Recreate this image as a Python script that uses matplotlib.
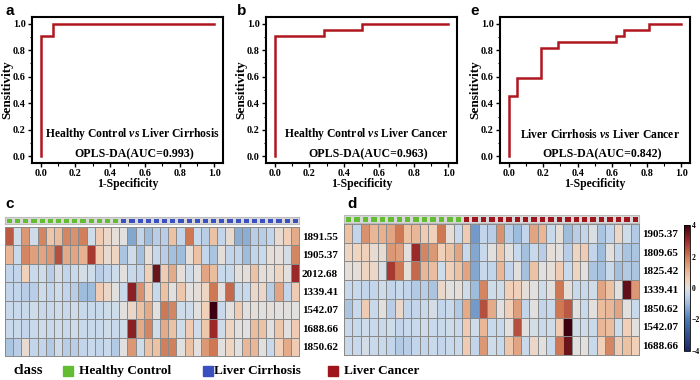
import numpy as np
import matplotlib
matplotlib.use("Agg")
import matplotlib.pyplot as plt
from matplotlib.colors import LinearSegmentedColormap, ListedColormap, Normalize
from matplotlib.patches import Rectangle

plt.rcParams['font.family'] = ['Liberation Serif', 'DejaVu Serif']
plt.rcParams['mathtext.fontset'] = 'custom'
plt.rcParams['mathtext.rm'] = 'Liberation Serif:bold'
plt.rcParams['mathtext.it'] = 'Liberation Serif:italic:bold'
plt.rcParams['mathtext.bf'] = 'Liberation Serif:bold'

# ---------------- ROC data ----------------
roc_a_fpr = [0, 0, 0.071, 0.071, 1.0]
roc_a_tpr = [0, 0.909, 0.909, 1.0, 1.0]
roc_b_fpr = [0, 0, 0.286, 0.286, 0.5, 0.5, 1.0]
roc_b_tpr = [0, 0.909, 0.909, 0.955, 0.955, 1.0, 1.0]
roc_e_fpr = [0, 0, 0.048, 0.048, 0.19, 0.19, 0.286, 0.286, 0.619, 0.619, 0.667, 0.667, 0.81, 0.81, 1.0]
roc_e_tpr = [0, 0.455, 0.455, 0.591, 0.591, 0.818, 0.818, 0.864, 0.864, 0.909, 0.909, 0.955, 0.955, 1.0, 1.0]
roc_titles = ["Healthy Control $\\it{vs}$ Liver Cirrhosis",
              "Healthy Control $\\it{vs}$ Liver Cancer",
              "Liver Cirrhosis $\\it{vs}$ Liver Cancer"]
roc_auc = ["OPLS-DA(AUC=0.993)", "OPLS-DA(AUC=0.963)", "OPLS-DA(AUC=0.842)"]
roc_letters = ["a", "b", "e"]

# ---------------- Heatmap c data (14 HC + 22 LC) ----------------
c_labels = ["1891.55", "1905.37", "2012.68", "1339.41", "1542.07", "1688.66", "1850.62"]
c_classes = [0] * 14 + [1] * 22
c_vals = [
    [2.4, -0.3, 1.5, -0.3, 1.8, 0.7, 0.9, 1.8, 1.6, 1.9, -0.3, 0.6, 0.3, 0.1,
     0.0, -1.3, -0.5, -1.0, -0.6, -0.6, 0.8, -0.5, 2.0, -0.4, -0.6, 0.8, -0.5, 0.2, -1.2, -1.2, -0.6, -0.6, -0.5, 0.2, 0.5, 1.2],
    [1.0, -0.4, 1.8, 1.4, 1.3, 1.5, 2.5, 1.2, 1.3, 1.1, 2.8, 0.6, 0.2, 0.4,
     -0.8, -0.3, -0.9, 0.1, -0.4, -0.6, -0.9, -1.0, 0.1, 0.8, -0.5, -0.8, 0.1, -0.5, -0.5, -1.0, -0.5, -0.4, 0.1, 0.1, -0.2, 1.8],
    [-0.5, -0.5, 0.5, -0.4, -0.3, -0.6, -0.2, -0.5, -0.4, -0.2, -0.3, -0.6, -0.5, -0.3,
     0.0, -0.4, -0.5, 0.5, 3.5, 0.6, 1.2, 0.1, -0.3, 0.0, 1.3, 0.9, -0.4, -0.4, 0.0, 0.1, 0.8, 0.1, 0.1, 0.4, 0.0, 3.0],
    [-0.5, -0.5, -0.6, -0.6, -0.3, -0.5, -0.3, -0.5, -0.6, -1.0, -1.0, 0.6, 0.3, 0.0,
     -0.4, 3.2, 1.6, 0.5, -0.4, 0.8, 0.0, 0.7, 0.0, 0.1, 0.4, 2.0, 0.0, 2.2, -0.4, -0.4, 0.3, 0.3, -0.6, 1.3, -0.5, 0.6],
    [-0.4, -0.4, -0.4, -0.3, -0.4, -0.4, -0.3, -0.4, -0.3, -0.4, -0.4, -0.4, -0.3, -0.3,
     0.0, 0.3, 0.8, 1.2, 0.0, 2.0, 1.8, -0.3, -0.3, 0.0, 0.5, 4.5, -0.4, 0.0, 0.6, 0.0, 0.1, 0.0, 0.1, 0.0, 0.0, 0.0],
    [-0.4, -0.4, -0.5, -0.4, -0.3, -0.4, -0.3, -0.4, -0.3, -0.4, -0.4, -0.4, -0.3, -0.4,
     -0.3, 3.2, 1.2, 1.8, -0.3, 1.2, 0.8, -0.3, 0.6, -0.3, 0.7, 3.0, -0.3, 0.4, 0.0, 0.0, 0.9, 0.8, 0.0, 0.7, 0.0, 0.6],
    [-0.8, -0.6, 0.2, -0.5, -0.5, -0.7, -0.3, -0.6, -0.6, -0.5, -0.4, -0.5, -0.4, -0.7,
     0.0, 1.5, -0.3, 0.8, 0.8, 1.9, 1.9, 0.0, 0.8, 0.0, 1.5, 2.0, 0.0, 0.4, 0.0, 1.0, 1.0, 0.0, -0.4, 0.5, 1.2, 0.6],
]

# ---------------- Heatmap d data (14 HC + 21 LCa) ----------------
d_labels = ["1905.37", "1809.65", "1825.42", "1339.41", "1850.62", "1542.07", "1688.66"]
d_classes = [0] * 14 + [2] * 21
d_vals = [
    [0.8, -0.5, 1.6, 1.0, 1.1, 1.3, 2.0, 0.8, 1.0, 0.6, 0.5, 2.0, 0.1, -0.4,
     0.6, -1.5, -0.5, -0.6, 1.6, -0.6, -1.0, -0.5, 1.3, 1.0, -0.4, 0.1, -1.0, -0.6, -0.5, -0.1, -0.8, -0.5, 0.3, -0.3, -0.7],
    [0.4, 0.4, 0.5, 0.2, 0.2, 1.5, 1.4, 0.0, 3.0, 1.8, 1.5, 0.5, 0.8, 1.3,
     -0.4, -1.3, -0.4, 0.0, 0.7, 0.0, -0.4, -0.9, -0.4, -0.6, 0.1, 0.0, -0.6, 0.4, 0.6, -0.5, -1.0, 0.0, -0.5, -0.8, -0.8],
    [0.1, 0.1, 0.4, 0.3, -0.1, 2.8, 2.0, 0.1, 2.2, 1.0, 0.9, -0.3, 0.5, 0.8,
     1.3, -1.3, -0.4, -0.5, 1.0, -0.5, 0.0, -0.9, 0.8, 0.0, 0.1, 0.6, -0.4, 0.4, 0.0, -0.8, -0.9, -0.4, -0.9, -0.7, -0.8],
    [-0.4, -0.4, -0.5, -0.5, -0.3, -0.5, -0.4, -0.5, -0.7, -0.6, -0.8, 0.3, 0.0, 0.1,
     -0.3, -1.0, 1.8, -0.3, -0.3, 0.5, 0.5, 0.1, 0.0, -0.3, 0.0, 2.0, 0.1, -0.4, -0.4, -0.3, 1.3, 0.8, 0.0, 3.6, 1.5],
    [-0.8, -0.4, 0.6, -0.4, 0.0, -0.6, 0.3, -0.5, -0.5, -0.4, -0.2, -0.5, -0.4, -0.7,
     1.2, -1.5, 2.5, 1.2, 0.0, 0.5, 1.4, -0.5, 0.0, -0.5, -0.4, 2.0, 2.4, 0.0, -0.4, 0.0, 0.9, 1.0, 1.3, 0.0, -0.4],
    [-0.4, -0.4, -0.3, -0.4, -0.4, -0.3, -0.5, -0.4, -0.4, -0.3, -0.4, -0.4, -0.3, -0.4,
     0.6, -0.3, 1.0, -0.4, -0.4, 0.0, 2.5, 0.0, -0.2, -0.4, -0.3, 0.6, 4.5, -0.3, -0.3, -0.4, 1.0, 0.9, -0.3, 0.5, 0.0],
    [-0.4, -0.4, -0.2, -0.4, -0.4, -0.5, -0.7, -0.6, -0.5, -0.5, -0.4, -0.5, -0.4, -0.4,
     0.6, -0.5, 1.5, -0.3, -0.4, 0.7, 1.3, -0.4, 0.3, 0.0, -0.4, 2.0, 3.5, 0.0, 0.0, -0.4, 0.5, 1.8, 0.6, 0.8, 0.5],
]

class_names = ["Healthy Control", "Liver Cirrhosis", "Liver Cancer"]
class_colors = ["#62BD33", "#3A50BE", "#A0141C"]
cbar_ticks = [-4, -2, 0, 2, 4]

# ---------------- figure ----------------
W, H = 700, 380
fig = plt.figure(figsize=(7, 3.8), dpi=100)

def fbox(x0, y0, x1, y1):
    return [x0 / W, 1 - y1 / H, (x1 - x0) / W, (y1 - y0) / H]

red = "#B0161E"
roc_boxes = [(32, 17, 223, 163), (266, 17, 457, 163), (500, 17, 690, 163)]
roc_data = [(roc_a_fpr, roc_a_tpr), (roc_b_fpr, roc_b_tpr), (roc_e_fpr, roc_e_tpr)]
letter_x = [10, 242, 475]
ylabel_px = [7, 241, 475]
for i in range(3):
    x0, y0, x1, y1 = roc_boxes[i]
    ax = fig.add_axes(fbox(*roc_boxes[i]))
    fpr, tpr = roc_data[i]
    ax.plot(fpr, tpr, color=red, lw=1.8, solid_joinstyle='miter')
    ax.set_xlim(-0.05, 1.05)
    ax.set_ylim(-0.05, 1.05)
    ticks = [0, 0.2, 0.4, 0.6, 0.8, 1.0]
    ax.set_xticks(ticks)
    ax.set_yticks(ticks)
    ax.set_xticks(np.arange(0.1, 1.0, 0.2), minor=True)
    ax.set_yticks(np.arange(0.1, 1.0, 0.2), minor=True)
    ax.set_xticklabels([f"{t:.1f}" for t in ticks], fontsize=7.3, fontweight='bold')
    ax.set_yticklabels([f"{t:.1f}" for t in ticks], fontsize=7.3, fontweight='bold')
    ax.tick_params(which='major', direction='out', length=3, width=1, pad=1.5)
    ax.tick_params(which='minor', direction='out', length=1.8, width=0.8)
    for s in ax.spines.values():
        s.set_linewidth(1.5)
    ax.set_xlabel("1-Specificity", fontsize=8.5, fontweight='bold', labelpad=0)
    ax.set_ylabel("Sensitivity", fontsize=9.5, fontweight='bold')
    ax.yaxis.set_label_coords((ylabel_px[i] - x0) / (x1 - x0), 0.5)
    ax.yaxis.label.set_va('center')
    ax.text(0.53, 0.165, roc_titles[i], fontsize=8.4, fontweight='bold', ha='center', va='center')
    ax.text(0.54, 0.015, roc_auc[i], fontsize=8.6, fontweight='bold', ha='center', va='center')
    fig.text(letter_x[i] / W, 1 - 11 / H, roc_letters[i], family='Liberation Sans',
             fontsize=11, fontweight='bold', ha='center', va='center')

# colormap
cmap = LinearSegmentedColormap.from_list("hm", [
    (0.0, "#1a2466"), (0.25, "#4a78b5"), (0.375, "#9dbbdc"), (0.45, "#c8d9ec"),
    (0.5, "#e0e0e0"), (0.56, "#f0d2bb"), (0.625, "#eab898"), (0.75, "#cf7a55"),
    (0.875, "#9e2a2a"), (1.0, "#3c0010")])
norm = Normalize(-4, 4)
cls_cmap = ListedColormap(class_colors)

def heatmap(vals, classes, labels, hm_box, bar_box):
    A = np.array(vals)
    nr, nc = A.shape
    ax = fig.add_axes(fbox(*hm_box))
    ax.pcolormesh(np.arange(nc + 1), np.arange(nr + 1), A, cmap=cmap, norm=norm,
                  edgecolors="#8a8a8a", linewidth=0.7)
    ax.set_xlim(0, nc)
    ax.set_ylim(nr, 0)
    ax.set_xticks([])
    ax.yaxis.tick_right()
    ax.set_yticks(np.arange(nr) + 0.5)
    ax.set_yticklabels(labels, fontsize=8, fontweight='bold')
    ax.tick_params(axis='y', length=0, pad=2)
    for s in ax.spines.values():
        s.set_edgecolor("#8a8a8a")
        s.set_linewidth(0.7)
    bx = fig.add_axes(fbox(*bar_box))
    bx.pcolormesh(np.arange(nc + 1), [0, 1], np.array([classes]), cmap=cls_cmap,
                  vmin=-0.5, vmax=2.5, edgecolors="#d8d8d8", linewidth=0.8)
    bx.set_xlim(0, nc)
    bx.set_ylim(1, 0)
    bx.set_xticks([])
    bx.set_yticks([])
    for s in bx.spines.values():
        s.set_edgecolor("#bbbbbb")
        s.set_linewidth(0.8)
    return ax

heatmap(c_vals, c_classes, c_labels, (5, 227, 299, 356), (5, 217, 299, 224))
heatmap(d_vals, d_classes, d_labels, (344, 224, 639, 355), (344, 215, 639, 223))

fig.text(10 / W, 1 - 204 / H, "c", family='Liberation Sans', fontsize=11, fontweight='bold', ha='center', va='center')
fig.text(352 / W, 1 - 204 / H, "d", family='Liberation Sans', fontsize=11, fontweight='bold', ha='center', va='center')

# colorbar
cax = fig.add_axes(fbox(684, 225, 690, 351))
cb = fig.colorbar(plt.cm.ScalarMappable(norm=norm, cmap=cmap), cax=cax, ticks=cbar_ticks)
cb.outline.set_linewidth(0.6)
cb.ax.tick_params(length=0, labelsize=5.5, pad=1.5)
for t in cb.ax.get_yticklabels():
    t.set_fontweight('bold')

# legend
ly = 1 - 371 / H
fig.text(14 / W, ly, "class", fontsize=10.5, fontweight='bold', ha='left', va='center')
sq_x = [63, 203, 328]
tx_x = [79, 214, 344]
for i in range(3):
    fig.patches.append(Rectangle((sq_x[i] / W, 1 - 376 / H), 10 / W, 10 / H,
                                 transform=fig.transFigure, color=class_colors[i]))
    fig.text(tx_x[i] / W, ly, class_names[i], fontsize=9.5, fontweight='bold', ha='left', va='center')

fig.savefig("out.png", dpi=100)
